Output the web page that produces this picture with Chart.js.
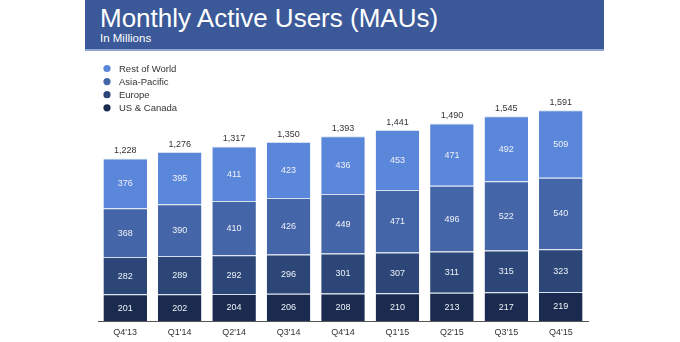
<!DOCTYPE html>
<html>
<head>
<meta charset="utf-8">
<script src="https://cdn.jsdelivr.net/npm/chart.js@4/dist/chart.umd.min.js"></script>
<style>
  html, body { margin: 0; padding: 0; background: #fff; }
  #wrap { position: relative; width: 680px; height: 342px; overflow: hidden; }
  #banner {
    position: absolute; left: 85px; top: 0; width: 519px; height: 49px;
    background: #3b5998; border-bottom: 2px solid #8fa6d2;
    font-family: "Liberation Sans", Arial, sans-serif; color: #fff;
  }
  #banner h1 { position: absolute; left: 15px; top: 3px; margin: 0; font-size: 26px; font-weight: normal; line-height: 30px; }
  #banner p { position: absolute; left: 15px; top: 32px; margin: 0; font-size: 11.5px; line-height: 13px; }
  canvas { position: absolute; left: 0; top: 0; }
</style>
</head>
<body>
<div id="wrap">
  <canvas id="mau" width="680" height="342"></canvas>
  <div id="banner">
    <h1>Monthly Active Users (MAUs)</h1>
    <p>In Millions</p>
  </div>
</div>
<script>
"use strict";

const quarters = ["Q4'13", "Q1'14", "Q2'14", "Q3'14", "Q4'14", "Q1'15", "Q2'15", "Q3'15", "Q4'15"];
const usCanada = [201, 202, 204, 206, 208, 210, 213, 217, 219];
const europe = [282, 289, 292, 296, 301, 307, 311, 315, 323];
const asiaPacific = [368, 390, 410, 426, 449, 471, 496, 522, 540];
const restOfWorld = [376, 395, 411, 423, 436, 453, 471, 492, 509];
const totals = [1228, 1276, 1317, 1350, 1393, 1441, 1490, 1545, 1591];

const FONT = "'Liberation Sans', Arial, sans-serif";

function series(label, data, color) {
  return {
    label,
    data,
    backgroundColor: color,
    borderColor: "rgba(200, 212, 235, 0.75)",
    borderWidth: { top: 1, left: 0, right: 0, bottom: 0 },
    borderSkipped: false,
    categoryPercentage: 0.8,
    barPercentage: 1,
  };
}

// segment values, totals above each column and the legend block
const labelsPlugin = {
  id: "mauLabels",
  afterDatasetsDraw(chart) {
    const ctx = chart.ctx;
    ctx.save();
    ctx.font = "9px " + FONT;
    ctx.textAlign = "center";
    ctx.textBaseline = "middle";

    chart.data.datasets.forEach((ds, di) => {
      const meta = chart.getDatasetMeta(di);
      meta.data.forEach((bar, i) => {
        ctx.fillStyle = "#eef1f8";
        ctx.fillText(ds.data[i], bar.x, (bar.y + bar.base) / 2 + 0.5);
      });
    });

    const top = chart.getDatasetMeta(chart.data.datasets.length - 1);
    ctx.fillStyle = "#333";
    top.data.forEach((bar, i) => {
      ctx.fillText(totals[i].toLocaleString("en-US"), bar.x, bar.y - 7.5);
    });

    ctx.textAlign = "left";
    ctx.font = "9.5px " + FONT;
    const items = chart.data.datasets.slice().reverse();
    items.forEach((ds, k) => {
      const y = 68.5 + k * 13.1;
      ctx.fillStyle = ds.backgroundColor;
      ctx.beginPath();
      ctx.arc(107, y, 3.6, 0, Math.PI * 2);
      ctx.fill();
      ctx.fillStyle = "#333";
      ctx.fillText(ds.label, 119, y + 0.5);
    });
    ctx.restore();
  },
};

new Chart(document.getElementById("mau"), {
  type: "bar",
  data: {
    labels: quarters,
    datasets: [
      series("US & Canada", usCanada, "#1b2b4f"),
      series("Europe", europe, "#2b4677"),
      series("Asia-Pacific", asiaPacific, "#4565a9"),
      series("Rest of World", restOfWorld, "#5b87da"),
    ],
  },
  options: {
    responsive: false,
    animation: false,
    layout: { padding: { left: 98, right: 92, top: 56, bottom: 0 } },
    plugins: {
      legend: { display: false },
      tooltip: { enabled: false },
    },
    scales: {
      x: {
        stacked: true,
        grid: { display: false, drawTicks: false },
        border: { display: true, color: "#555", width: 1 },
        ticks: { color: "#333", font: { family: FONT, size: 9 }, padding: 6 },
        afterFit(axis) { axis.height = 21; },
      },
      y: {
        stacked: true,
        display: false,
        min: 0,
        max: 2000,
      },
    },
  },
  plugins: [labelsPlugin],
});
</script>
</body>
</html>
